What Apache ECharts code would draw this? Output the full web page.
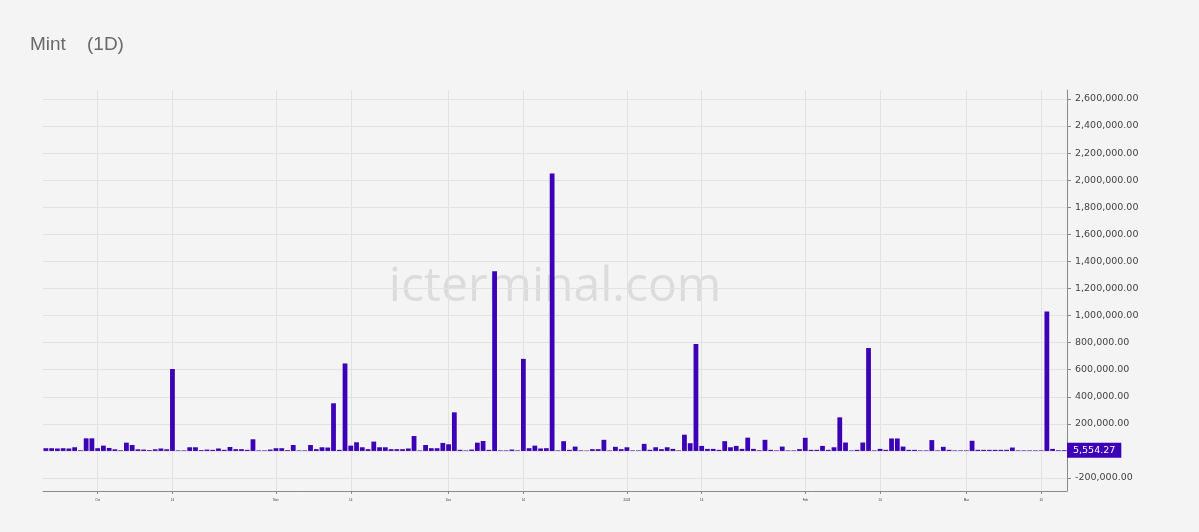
<!DOCTYPE html>
<html><head><meta charset="utf-8">
<script src="https://cdn.jsdelivr.net/npm/echarts@6/dist/echarts.min.js"></script>
<style>html,body{margin:0;padding:0;background:#f4f4f4;}#c{width:1199px;height:532px;}</style>
</head><body><div id="c"></div>
<script>
const titleText = 'Mint    (1D)';
const watermarkText = 'icterminal.com';
const startDate = '2023-09-22';
const values = [
  20000, 20000, 18000, 20000, 18000, 27000, 5000, 93000, 93000, 20000,
  39000, 22000, 12000, 5000, 61000, 44000, 12000, 10000, 6000, 12000,
  18000, 12000, 605000, 4000, 4000, 27000, 27000, 6000, 10000, 8000,
  18000, 8000, 29000, 13000, 13000, 8000, 86000, 4000, 4000, 10000,
  20000, 20000, 6000, 44000, 4000, 4000, 44000, 13000, 27000, 25000,
  352000, 8000, 646000, 39000, 64000, 27000, 13000, 69000, 27000, 27000,
  13000, 13000, 13000, 18000, 110000, 4000, 44000, 20000, 20000, 59000,
  49000, 285000, 8000, 4000, 10000, 61000, 73000, 8000, 1328000, 4000,
  4000, 10000, 4000, 680000, 20000, 39000, 18000, 20000, 2050000, 4000,
  72000, 8000, 32000, 4000, 3000, 13000, 13000, 82000, 4000, 30000,
  13000, 27000, 4000, 4000, 52000, 8000, 27000, 13000, 27000, 15000,
  4000, 120000, 57000, 790000, 37000, 15000, 15000, 8000, 72000, 27000,
  37000, 15000, 98000, 15000, 5000, 82000, 8000, 4000, 32000, 4000,
  4000, 13000, 97000, 8000, 8000, 37000, 8000, 27000, 248000, 62000,
  4000, 8000, 62000, 760000, 4000, 15000, 8000, 92000, 92000, 32000,
  8000, 8000, 4000, 4000, 80000, 4000, 30000, 8000, 4000, 4000,
  4000, 75000, 8000, 8000, 8000, 8000, 8000, 8000, 25000, 4000,
  4000, 4000, 4000, 4000, 1030000, 15000, 5000, 5554.27
];
const lastValue = 5554.27;
const yTickValues = [-200000, 0, 200000, 400000, 600000, 800000, 1000000, 1200000, 1400000, 1600000, 1800000, 2000000, 2200000, 2400000, 2600000];
const yLabelValues = [-200000, 200000, 400000, 600000, 800000, 1000000, 1200000, 1400000, 1600000, 1800000, 2000000, 2200000, 2400000, 2600000];
const yMin = -296000;
const yMax = 2666000;
const xTickIdx = [9, 22, 40, 53, 70, 83, 101, 114, 132, 145, 160, 173];
const xTickText = ['Oct', '14', 'Nov', '14', 'Dec', '14', '2024', '14', 'Feb', '14', 'Mar', '14'];

const categories = [];
(function () {
  const d0 = new Date(startDate + 'T00:00:00Z');
  for (let i = 0; i < values.length; i++) {
    const d = new Date(d0.getTime() + i * 86400000);
    categories.push(d.toISOString().slice(0, 10));
  }
})();

const fmt = v => Number(v).toLocaleString('en-US', {minimumFractionDigits: 2, maximumFractionDigits: 2});
const barColor = '#3c00b6';
const axisColor = '#8a8a8a';
const gridColor = '#e2e2e2';

const chart = echarts.init(document.getElementById('c'), null, {renderer: 'canvas'});
chart.setOption({
  animation: false,
  backgroundColor: '#f4f4f4',
  title: {
    text: titleText, left: 30, top: 35, padding: 0,
    textStyle: {fontFamily: 'Liberation Sans', fontSize: 19, fontWeight: 'normal', color: '#6a6a6a'}
  },
  graphic: [{
    type: 'text', x: 555, y: 287, silent: true, z: 0,
    style: {text: watermarkText, font: '48px "Open Sans"', fill: '#dcdcdc', textAlign: 'center', textVerticalAlign: 'middle'}
  }],
  grid: {left: 43, right: 132, top: 90, bottom: 41},
  xAxis: {
    type: 'category', data: categories, boundaryGap: true,
    axisLine: {show: true, onZero: false, lineStyle: {color: axisColor, width: 1}},
    axisTick: {show: true, alignWithLabel: true, length: 3, interval: (i) => xTickIdx.includes(i), lineStyle: {color: axisColor}},
    axisLabel: {
      interval: (i) => xTickIdx.includes(i),
      formatter: (v, i) => { const k = xTickIdx.indexOf(i); return k >= 0 ? xTickText[k] : ''; },
      fontSize: 3, color: '#333', margin: 8
    },
    splitLine: {show: false}
  },
  yAxis: {
    type: 'value', position: 'right', min: yMin, max: yMax,
    axisLine: {show: true, lineStyle: {color: axisColor, width: 1}},
    axisTick: {show: true, inside: false, length: 4, customValues: yTickValues, lineStyle: {color: axisColor}},
    axisLabel: {customValues: yLabelValues, formatter: v => fmt(v), fontFamily: 'DejaVu Sans', fontSize: 9.5, color: '#444', margin: 8},
    splitLine: {show: true, lineStyle: {color: gridColor, width: 1}}
  },
  series: [
    {
      type: 'line', data: [], z: 1, silent: true, symbol: 'none',
      markLine: {
        silent: true, symbol: 'none', z: 1, animation: false,
        label: {show: false},
        lineStyle: {color: gridColor, type: 'solid', width: 1},
        data: xTickIdx.map(i => ({xAxis: i}))
      }
    },
    {
      type: 'bar', data: values, z: 2, barCategoryGap: '17%',
      itemStyle: {color: barColor},
      markLine: {
        silent: true, symbol: 'none', z: 10, animation: false,
        lineStyle: {color: 'rgba(0,0,0,0)', width: 1, type: 'solid'},
        label: {
          show: true, position: 'end', distance: 0,
          formatter: () => fmt(lastValue),
          color: '#ffffff', backgroundColor: barColor, padding: [3, 6, 2, 6],
          fontFamily: 'DejaVu Sans', fontSize: 9.5
        },
        data: [{yAxis: lastValue}]
      }
    }
  ]
});
</script></body></html>
